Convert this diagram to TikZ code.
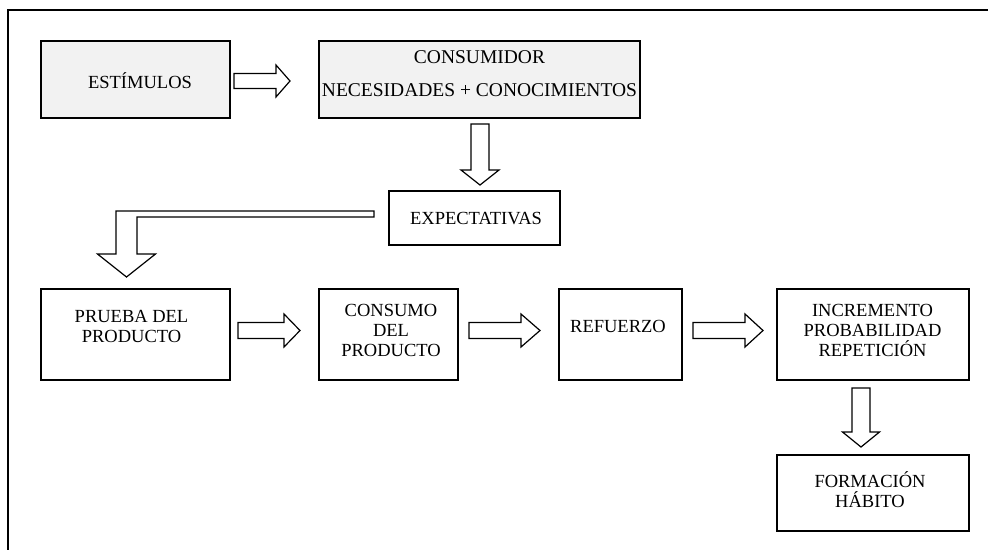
\documentclass[tikz,border=0pt]{standalone}
\usepackage{fontspec}
\setmainfont{Liberation Serif}
\usetikzlibrary{calc}

\definecolor{boxgray}{RGB}{242,242,242}

\tikzset{
  stagebox/.style={draw=black, line width=2pt, rectangle, inner sep=0pt, fill=white},
  shadedbox/.style={stagebox, fill=boxgray},
  label/.style={inner sep=0pt, align=center, text=black,
                font=\fontsize{18.5}{20}\selectfont},
  blockarrow/.style={draw=black, fill=white, line width=1.2pt, line join=miter},
}

% hollow block arrow pointing right: #1 tail point, #2 tip point,
% #3 half shaft width, #4 half head width, #5 head length
\newcommand\rightblock[5]{%
  \path[blockarrow] let \p1=(#1), \p2=(#2) in
    (\x1,{\y2+#3}) -- ({\x2-#5},{\y2+#3}) -- ({\x2-#5},{\y2+#4}) -- (\x2,\y2)
    -- ({\x2-#5},{\y2-#4}) -- ({\x2-#5},{\y2-#3}) -- (\x1,{\y2-#3}) -- cycle;}

% hollow block arrow pointing down: same arguments
\newcommand\downblock[5]{%
  \path[blockarrow] let \p1=(#1), \p2=(#2) in
    ({\x2-#3},\y1) -- ({\x2-#3},{\y2+#5}) -- ({\x2-#4},{\y2+#5}) -- (\x2,\y2)
    -- ({\x2+#4},{\y2+#5}) -- ({\x2+#3},{\y2+#5}) -- ({\x2+#3},\y1) -- cycle;}

\begin{document}
\begin{tikzpicture}[x=1pt, y=-1pt]
  \useasboundingbox (0,0) rectangle (988,550);

  % open frame: top and left rules only
  \draw[line width=2pt] (988,10) -- (8,10) -- (8,550);

  % stages
  \node[shadedbox, minimum width=189pt, minimum height=77pt] (est)  at (135.5,79.5) {};
  \node[shadedbox, minimum width=321pt, minimum height=77pt] (cons) at (479.5,79.5) {};
  \node[stagebox, minimum width=171pt, minimum height=54pt]  (exp)  at (474.5,218) {};
  \node[stagebox, minimum width=189pt, minimum height=91pt]  (prue) at (135.5,334.5) {};
  \node[stagebox, minimum width=139pt, minimum height=91pt]  (cmo)  at (388.5,334.5) {};
  \node[stagebox, minimum width=123pt, minimum height=91pt]  (ref)  at (620.5,334.5) {};
  \node[stagebox, minimum width=192pt, minimum height=91pt]  (inc)  at (873,334.5) {};
  \node[stagebox, minimum width=192pt, minimum height=76pt]  (form) at (873,493) {};

  % texts
  \node[label] (estT) at (140,81) {ESTÍMULOS};
  \node[label, font=\fontsize{19.5}{20}\selectfont] (consT) at (479.5,73.5)
        {CONSUMIDOR\\[13pt]NECESIDADES + CONOCIMIENTOS};
  \node[label] (expT)  at (476,218.5) {EXPECTATIVAS};
  \node[label] (prueT) at (131.5,326.5) {PRUEBA DEL\\PRODUCTO};
  \node[label] (cmoT)  at (391,330) {CONSUMO\\DEL\\PRODUCTO};
  \node[label] (refT)  at (618,326.5) {REFUERZO};
  \node[label] (incT)  at (872.5,330) {INCREMENTO\\PROBABILIDAD\\REPETICIÓN};
  \node[label] (formT) at (870,490) {FORMACIÓN\\HÁBITO};

  % connectors
  \rightblock{$(est.east)+(3,1.5)$}{$(cons.west)+(-28,1.5)$}{7.5pt}{16pt}{14pt}
  \downblock{$(cons.south)+(0.5,5)$}{$(exp.north)+(5.5,-5)$}{9pt}{19pt}{15pt}

  % bent arrow from EXPECTATIVAS down to PRUEBA DEL PRODUCTO
  \path[blockarrow] let \p1=($(exp.west)+(-14,0)$), \p2=($(prue.north)+(-9,-11)$) in
    (\x1,{\y1+7pt}) -- ({\x2-10.5pt},{\y1+7pt}) -- ({\x2-10.5pt},{\y2+23pt})
    -- ({\x2-29pt},{\y2+23pt}) -- (\x2,\y2) -- ({\x2+29pt},{\y2+23pt})
    -- ({\x2+10.5pt},{\y2+23pt}) -- ({\x2+10.5pt},{\y1+1pt}) -- (\x1,{\y1+1pt}) -- cycle;

  \rightblock{$(prue.east)+(7,-4)$}{$(cmo.west)+(-18,-4)$}{8pt}{16.5pt}{16pt}
  \rightblock{$(cmo.east)+(10,-4)$}{$(ref.west)+(-18,-4)$}{8pt}{16.5pt}{19pt}
  \rightblock{$(ref.east)+(10,-4)$}{$(inc.west)+(-13,-4)$}{8pt}{16.5pt}{18pt}
  \downblock{$(inc.south)+(-12,7)$}{$(form.north)+(-12,-7)$}{9pt}{18.5pt}{15pt}
\end{tikzpicture}
\end{document}
